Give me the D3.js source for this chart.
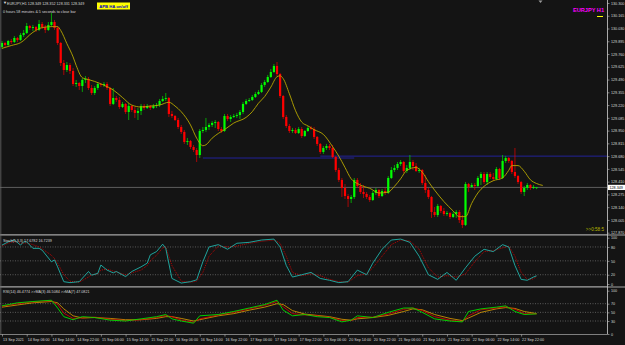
<!DOCTYPE html>
<html><head><meta charset="utf-8">
<script src="https://cdn.jsdelivr.net/npm/d3@7"></script>
<style>
body{margin:0;background:#141414;}
svg{display:block;font-family:"Liberation Sans",Arial,sans-serif;}
</style></head><body>
<div id="chart"></div>
<script>
// EURJPY H1 candles
const opens = [129.835,129.877,129.856,129.898,129.888,129.930,129.909,129.962,129.983,130.057,
130.036,130.046,130.015,130.078,130.046,130.015,130.068,130.099,130.036,129.877,
129.665,129.591,129.644,129.581,129.443,129.454,129.422,129.486,129.496,129.401,
129.348,129.401,129.443,129.433,129.443,129.401,129.232,129.295,129.274,129.200,
129.232,129.147,129.211,129.168,129.137,129.158,129.211,129.189,129.211,129.189,
129.211,129.221,129.263,129.285,129.295,129.126,129.105,129.062,128.988,128.936,
128.830,128.840,128.777,128.745,128.692,128.946,128.957,128.988,129.010,129.031,
129.041,128.967,128.946,129.105,129.073,129.094,129.105,129.115,129.147,129.232,
129.263,129.274,129.306,129.337,129.359,129.433,129.464,129.517,129.570,129.634,
129.549,129.316,129.094,128.999,128.946,128.957,128.925,128.967,128.893,128.946,
128.978,128.967,128.883,128.809,128.724,128.766,128.787,128.766,128.671,128.533,
128.428,128.343,128.258,128.227,128.248,128.428,128.364,128.301,128.280,128.248,
128.216,128.290,128.322,128.258,128.311,128.290,128.449,128.533,128.555,128.597,
128.618,128.523,128.555,128.618,128.576,128.523,128.533,128.396,128.322,128.248,
128.089,128.057,128.153,128.100,128.068,128.078,128.036,128.068,128.089,128.004,
127.952,128.385,128.354,128.375,128.364,128.449,128.491,128.406,128.491,128.459,
128.438,128.544,128.449,128.629,128.660,128.629,128.512,128.470,128.406,128.301,
128.343,128.375,128.343,128.349];
const highs = [129.898,129.888,129.909,129.919,129.951,129.941,129.983,130.015,130.089,130.068,
130.068,130.057,130.120,130.099,130.068,130.099,130.194,130.120,130.057,129.888,
129.697,129.676,129.665,129.613,129.486,129.464,129.507,129.528,129.517,129.433,
129.422,129.464,129.454,129.464,129.464,129.412,129.401,129.316,129.306,129.253,
129.242,129.242,129.221,129.200,129.189,129.232,129.232,129.232,129.221,129.232,
129.242,129.285,129.316,129.348,129.306,129.158,129.115,129.084,129.010,128.957,
128.872,128.851,128.798,128.766,128.967,128.988,129.084,129.031,129.052,129.062,
129.052,128.988,129.126,129.126,129.115,129.126,129.137,129.168,129.253,129.285,
129.295,129.327,129.359,129.380,129.454,129.486,129.539,129.602,129.655,129.676,
129.560,129.327,129.115,129.020,128.978,128.978,128.988,128.988,128.957,128.999,
128.999,128.988,128.893,128.819,128.787,128.809,128.809,128.798,128.682,128.555,
128.449,128.385,128.280,128.269,128.449,128.449,128.396,128.375,128.301,128.269,
128.311,128.343,128.332,128.332,128.343,128.470,128.565,128.586,128.618,128.639,
128.629,128.586,128.692,128.639,128.607,128.555,128.544,128.481,128.343,128.258,
128.142,128.174,128.163,128.131,128.100,128.089,128.089,128.110,128.110,128.057,
128.406,128.396,128.396,128.396,128.470,128.512,128.512,128.512,128.512,128.502,
128.565,128.555,128.692,128.682,128.671,128.639,128.766,128.481,128.417,128.364,
128.396,128.385,128.375,128.352];
const lows = [129.814,129.835,129.845,129.867,129.877,129.888,129.898,129.941,129.972,130.015,
130.004,129.993,130.004,130.025,129.983,130.004,130.046,130.015,129.856,129.634,
129.539,129.570,129.549,129.422,129.412,129.380,129.359,129.454,129.380,129.327,
129.327,129.380,129.412,129.412,129.380,129.211,129.221,129.253,129.179,129.189,
129.126,129.062,129.147,129.084,129.062,129.115,129.168,129.179,129.168,129.179,
129.189,129.200,129.253,129.263,129.094,129.084,129.052,128.967,128.914,128.809,
128.798,128.756,128.724,128.618,128.660,128.925,128.936,128.957,128.988,128.978,
128.946,128.925,128.936,129.052,129.041,129.084,129.084,129.073,129.126,129.221,
129.253,129.263,129.295,129.327,129.348,129.412,129.454,129.507,129.560,129.528,
129.295,129.073,128.978,128.925,128.925,128.914,128.914,128.872,128.883,128.936,
128.957,128.861,128.787,128.703,128.703,128.745,128.745,128.660,128.512,128.406,
128.248,128.227,128.142,128.184,128.227,128.343,128.280,128.237,128.227,128.195,
128.205,128.269,128.237,128.248,128.269,128.280,128.438,128.512,128.533,128.576,
128.502,128.502,128.533,128.533,128.512,128.502,128.375,128.290,128.227,128.026,
128.036,128.036,128.078,128.047,128.047,128.015,128.026,128.026,127.973,127.920,
127.941,128.301,128.343,128.322,128.354,128.375,128.385,128.375,128.438,128.417,
128.428,128.428,128.438,128.607,128.607,128.491,128.449,128.385,128.280,128.258,
128.322,128.322,128.332,128.331];
const closes = [129.877,129.856,129.898,129.888,129.930,129.909,129.962,129.983,130.057,130.036,
130.046,130.015,130.078,130.046,130.015,130.068,130.099,130.036,129.877,129.665,
129.591,129.644,129.581,129.443,129.454,129.422,129.486,129.496,129.401,129.348,
129.401,129.443,129.433,129.443,129.401,129.232,129.295,129.274,129.200,129.232,
129.147,129.211,129.168,129.137,129.158,129.211,129.189,129.211,129.189,129.211,
129.221,129.263,129.285,129.295,129.126,129.105,129.062,128.988,128.936,128.830,
128.840,128.777,128.745,128.692,128.946,128.957,128.988,129.010,129.031,129.041,
128.967,128.946,129.105,129.073,129.094,129.105,129.115,129.147,129.232,129.263,
129.274,129.306,129.337,129.359,129.433,129.464,129.517,129.570,129.634,129.549,
129.316,129.094,128.999,128.946,128.957,128.925,128.967,128.893,128.946,128.978,
128.967,128.883,128.809,128.724,128.766,128.787,128.766,128.671,128.533,128.428,
128.343,128.258,128.227,128.248,128.428,128.364,128.301,128.280,128.248,128.216,
128.290,128.322,128.258,128.311,128.290,128.449,128.533,128.555,128.597,128.618,
128.523,128.555,128.618,128.576,128.523,128.533,128.396,128.322,128.248,128.089,
128.057,128.153,128.100,128.068,128.078,128.036,128.068,128.089,128.004,127.952,
128.385,128.354,128.375,128.364,128.449,128.491,128.406,128.491,128.459,128.438,
128.544,128.449,128.629,128.660,128.629,128.512,128.470,128.406,128.301,128.343,
128.375,128.343,128.354,128.349];

// moving average (yellow), sampled along the bars
const maBars = [0,3,6,10,13,16,18,19,21,23,24,26,28,30,33,36,39,42,45,48,51,54,56,58,61,63,65,66,68,70,72,75,79,81,83,85,87,89,90,91,93,95,97,99,101,104,107,109,111,113,115,117,119,122,125,127,129,131,134,136,138,140,143,146,148,150,152,154,156,159,162,164,165,167,169,171,173,175];
const maValues = [129.82,129.85,129.88,129.99,130.04,130.05,130.05,130.01,129.87,129.73,129.64,129.51,129.49,129.47,129.43,129.38,129.30,129.22,129.20,129.21,129.22,129.25,129.21,129.15,129.01,128.87,128.79,128.80,128.87,128.92,128.96,129.03,129.09,129.15,129.24,129.31,129.41,129.52,129.53,129.50,129.34,129.16,129.04,129.00,128.96,128.91,128.78,128.68,128.56,128.44,128.39,128.36,128.34,128.29,128.30,128.36,128.44,128.53,128.56,128.51,128.41,128.32,128.20,128.10,128.04,128.04,128.18,128.29,128.36,128.42,128.45,128.53,128.58,128.58,128.52,128.43,128.39,128.37];

const priceTicks = [130.300,130.165,130.030,129.895,129.760,129.625,129.490,129.355,129.220,129.085,128.950,128.815,128.680,128.545,128.410,128.275,128.140,128.005,127.870];
const bidPrice = 128.349;

const timeBars = [0,8,16,24,32,40,48,56,64,72,80,88,96,104,112,120,128,136,144,152,160,168];
const timeLabels = ["13 Sep 2021","14 Sep 06:00","14 Sep 14:00","14 Sep 22:00","15 Sep 06:00","15 Sep 14:00","15 Sep 22:00","16 Sep 06:00","16 Sep 14:00","16 Sep 22:00","17 Sep 06:00","17 Sep 14:00","17 Sep 22:00","20 Sep 06:00","20 Sep 14:00","20 Sep 22:00","21 Sep 06:00","21 Sep 14:00","21 Sep 22:00","22 Sep 06:00","22 Sep 14:00","22 Sep 22:00"];

// Stochastic(5,3,3)
const stochBars = [0,2,4,6,7,8,10,12,13,16,17,18,20,22,25,28,29,31,32,34,36,37,40,42,45,47,48,50,52,53,55,58,61,63,65,67,70,73,76,80,84,88,90,92,94,97,100,103,106,109,112,115,118,120,123,126,129,132,135,138,141,144,147,150,153,156,159,162,164,166,168,170,172,173];
const stochMain = [84,91,95,84,91,91,77,77,73,48,52,37,5,3,5,27,19,23,41,30,24,27,16,27,37,45,63,70,86,77,12,2,5,9,48,80,85,75,88,90,95,97,80,40,15,20,25,12,8,3,5,30,20,45,75,95,97,90,60,20,10,25,8,35,60,75,70,85,80,40,10,8,15,17.68];
const stochSignal = [82,88,92,88,88,89,85,80,76,62,55,45,20,6,4,15,20,22,30,32,28,26,20,24,30,40,50,62,78,80,40,6,4,6,25,60,82,80,82,88,92,95,88,60,25,18,22,18,10,5,4,18,22,35,60,85,95,93,75,35,15,18,15,22,48,70,72,78,82,60,25,10,11,16.72];
const stochLevels = [80,50,20];
const stochTicks = [100,80,50,20,0];

// RSI(14) with two averages
const rsiBars = [0,5,10,16,18,20,23,26,30,35,40,45,50,53,55,58,62,64,70,75,80,85,89,91,94,98,102,106,110,113,115,120,125,130,133,136,140,145,149,151,155,160,163,166,169,173];
const rsiValues = [65,72,75,78,60,40,33,40,38,32,30,35,40,45,35,30,25,42,45,52,60,68,78,55,42,45,40,38,28,32,42,38,50,60,60,50,35,30,28,52,58,62,65,52,45,46.48];
const rsiMa3 = [64,70,74,77,68,48,36,37,39,34,31,33,38,43,40,32,27,35,44,50,58,66,75,63,47,44,42,39,31,31,38,39,46,57,60,54,40,32,29,42,56,60,63,57,47,46.51];
const rsiMa7 = [62,67,72,75,72,58,42,37,38,36,33,33,36,40,40,36,30,33,42,47,55,62,70,68,54,46,43,40,34,32,35,38,43,52,58,56,45,36,31,37,50,58,61,59,52,47.08];
const rsiLevels = [70,50,30];
const rsiTicks = [100,70,50,30,0];

const W = 625, H = 345, plotR = 607;
const svg = d3.select("#chart").append("svg").attr("width", W).attr("height", H);
svg.append("rect").attr("width", W).attr("height", H).attr("fill", "#141414");

const x = d3.scaleLinear().domain([0, 173]).range([2, 2 + 3.09 * 173]);
const yP = d3.scaleLinear().domain([127.870, 130.300]).range([232.7, 3]);
const yS = d3.scaleLinear().domain([0, 100]).range([284, 237.7]);
const yR = d3.scaleLinear().domain([0, 100]).range([334, 290.7]);

// horizontal lines in main window
svg.append("line").attr("x1", 0).attr("x2", plotR).attr("y1", yP(bidPrice)).attr("y2", yP(bidPrice))
  .attr("stroke", "#707070").attr("stroke-width", 0.8);
svg.append("line").attr("x1", x(65)).attr("x2", x(114)).attr("y1", yP(128.66)).attr("y2", yP(128.66))
  .attr("stroke", "#2424a8").attr("stroke-width", 0.9);
svg.append("line").attr("x1", x(103)).attr("x2", plotR).attr("y1", yP(128.68)).attr("y2", yP(128.68))
  .attr("stroke", "#2424a8").attr("stroke-width", 0.9);

// candles
const idx = d3.range(closes.length);
const up = i => closes[i] >= opens[i];
svg.append("g").selectAll("line").data(idx).join("line")
  .attr("x1", i => x(i)).attr("x2", i => x(i))
  .attr("y1", i => yP(highs[i])).attr("y2", i => yP(lows[i]))
  .attr("stroke", i => up(i) ? "#00e000" : "#e80000").attr("stroke-width", 0.7);
svg.append("g").selectAll("rect").data(idx).join("rect")
  .attr("x", i => x(i) - 1.1).attr("width", 2.2)
  .attr("y", i => yP(Math.max(opens[i], closes[i])))
  .attr("height", i => Math.max(0.7, Math.abs(yP(opens[i]) - yP(closes[i]))))
  .attr("fill", i => up(i) ? "#00ff00" : "#ff0000");

// moving average
svg.append("path").datum(maBars)
  .attr("d", d3.line().x(b => x(b)).y((b, k) => yP(maValues[k])).curve(d3.curveMonotoneX))
  .attr("fill", "none").attr("stroke", "#b8a800").attr("stroke-width", 0.9);

// panel frames
const grey = "#9a9a9a";
svg.append("rect").attr("x", 0).attr("y", 234).attr("width", W).attr("height", 2).attr("fill", "#5c5c5c");
svg.append("rect").attr("x", 0).attr("y", 286).attr("width", W).attr("height", 2).attr("fill", "#5c5c5c");
svg.append("line").attr("x1", 0).attr("x2", plotR).attr("y1", 234.5).attr("y2", 234.5).attr("stroke", grey).attr("stroke-width", 0.6);
svg.append("line").attr("x1", 0).attr("x2", plotR).attr("y1", 286.5).attr("y2", 286.5).attr("stroke", grey).attr("stroke-width", 0.6);
svg.append("line").attr("x1", 0).attr("x2", plotR).attr("y1", 334.5).attr("y2", 334.5).attr("stroke", grey).attr("stroke-width", 0.8);
svg.append("line").attr("x1", 0.8).attr("x2", 0.8).attr("y1", 0).attr("y2", 334.5).attr("stroke", "#6a6a6a").attr("stroke-width", 0.8);

// level lines
svg.append("g").selectAll("line").data(stochLevels).join("line")
  .attr("x1", 0).attr("x2", plotR).attr("y1", d => yS(d)).attr("y2", d => yS(d))
  .attr("stroke", "#8a8a8a").attr("stroke-width", 0.6).attr("stroke-dasharray", "1,1.5");
svg.append("g").selectAll("line").data(rsiLevels).join("line")
  .attr("x1", 0).attr("x2", plotR).attr("y1", d => yR(d)).attr("y2", d => yR(d))
  .attr("stroke", "#8a8a8a").attr("stroke-width", 0.6).attr("stroke-dasharray", "1,1.5");

// stochastic lines
svg.append("path").datum(stochBars)
  .attr("d", d3.line().x(b => x(b)).y((b, k) => yS(stochSignal[k])))
  .attr("fill", "none").attr("stroke", "#e00000").attr("stroke-width", 0.8).attr("stroke-dasharray", "1,1");
svg.append("path").datum(stochBars)
  .attr("d", d3.line().x(b => x(b)).y((b, k) => yS(stochMain[k])))
  .attr("fill", "none").attr("stroke", "#20b2aa").attr("stroke-width", 0.9);

// RSI lines
svg.append("path").datum(rsiBars)
  .attr("d", d3.line().x(b => x(b)).y((b, k) => yR(rsiMa7[k])))
  .attr("fill", "none").attr("stroke", "#e0a000").attr("stroke-width", 0.8);
svg.append("path").datum(rsiBars)
  .attr("d", d3.line().x(b => x(b)).y((b, k) => yR(rsiMa3[k])))
  .attr("fill", "none").attr("stroke", "#e00000").attr("stroke-width", 0.8);
svg.append("path").datum(rsiBars)
  .attr("d", d3.line().x(b => x(b)).y((b, k) => yR(rsiValues[k])))
  .attr("fill", "none").attr("stroke", "#00e000").attr("stroke-width", 0.9);

// right axis line
svg.append("line").attr("x1", plotR + 0.5).attr("x2", plotR + 0.5).attr("y1", 0).attr("y2", 334.5)
  .attr("stroke", "#d0d0d0").attr("stroke-width", 0.8);

const fs = 3.7, txt = "#d8d8d8";
function styleAxis(g) {
  g.select(".domain").remove();
  g.selectAll(".tick line").attr("stroke", "#c0c0c0").attr("stroke-width", 0.6);
  g.selectAll(".tick text").attr("fill", txt).attr("font-size", fs);
}
svg.append("g").attr("transform", `translate(${plotR + 0.5},0)`)
  .call(d3.axisRight(yP).tickValues(priceTicks).tickFormat(d3.format(".3f")).tickSize(2).tickPadding(1.5))
  .call(styleAxis);
svg.append("g").attr("transform", `translate(${plotR + 0.5},0)`)
  .call(d3.axisRight(yS).tickValues(stochTicks).tickSize(2).tickPadding(1.5))
  .call(styleAxis);
svg.append("g").attr("transform", `translate(${plotR + 0.5},0)`)
  .call(d3.axisRight(yR).tickValues(rsiTicks).tickSize(2).tickPadding(1.5))
  .call(styleAxis);

// time axis
const tAxis = svg.append("g").attr("transform", "translate(0,334.5)")
  .call(d3.axisBottom(x).tickValues(timeBars).tickFormat((d, k) => timeLabels[k]).tickSize(2).tickPadding(2))
  .call(styleAxis);
tAxis.selectAll(".tick text").attr("text-anchor", "start").attr("dx", 0.5);

// bid price box
svg.append("rect").attr("x", plotR + 1).attr("y", yP(bidPrice) - 2.6).attr("width", 17).attr("height", 5.2).attr("fill", "#ffffff");
svg.append("text").attr("x", plotR + 2.5).attr("y", yP(bidPrice) + 1.3).attr("font-size", fs).attr("fill", "#000")
  .text(d3.format(".3f")(bidPrice));

// texts
svg.append("text").attr("x", 3).attr("y", 4.3).attr("font-size", 4).attr("fill", "#e0e0e0").text("▼");
svg.append("text").attr("x", 7).attr("y", 5.2).attr("font-size", fs).attr("fill", txt)
  .text("EURJPY,H1  128.349 128.352 128.331 128.349");
svg.append("text").attr("x", 3).attr("y", 13).attr("font-size", fs).attr("fill", txt)
  .text("0 hours 58 minutes & 5 seconds to close bar");
svg.append("rect").attr("x", 97).attr("y", 2.5).attr("width", 33).attr("height", 7).attr("fill", "#ffff00");
svg.append("text").attr("x", 113.5).attr("y", 7.6).attr("font-size", 4.2).attr("font-weight", "bold").attr("text-anchor", "middle")
  .attr("fill", "#0000c0").text("APB HA on/off");
svg.append("text").attr("x", 604).attr("y", 12).attr("font-size", 5.6).attr("font-weight", "bold").attr("text-anchor", "end")
  .attr("fill", "#ff00ff").text("EURJPY H1");
svg.append("line").attr("x1", 597).attr("x2", 603).attr("y1", 16.5).attr("y2", 16.5).attr("stroke", "#ffff00").attr("stroke-width", 1);
svg.append("path").attr("d", "M538.5,0.5 L542.5,0.5 L540.5,3 Z").attr("fill", "#9a9a9a");
svg.append("text").attr("x", 604).attr("y", 231).attr("font-size", 4.6).attr("text-anchor", "end")
  .attr("fill", "#b8b800").text(">>0:58:5");
svg.append("text").attr("x", 3).attr("y", 241.5).attr("font-size", fs).attr("fill", txt)
  .text("Stoch(5,3,3) 17.6782 16.7239");
svg.append("text").attr("x", 3).attr("y", 292.5).attr("font-size", fs).attr("fill", txt)
  .text("RSI(14) 46.4774  >>MA(3) 46.5084  >>MA(7) 47.0821");
</script>
</body></html>
